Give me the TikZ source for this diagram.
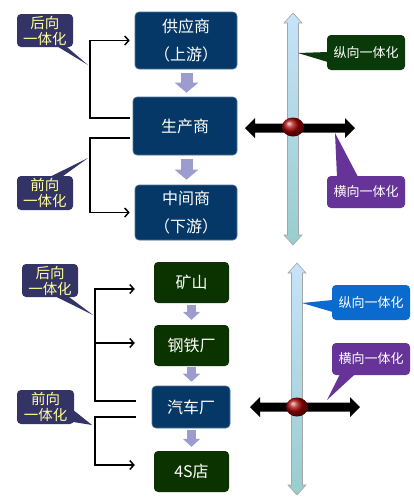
\documentclass[tikz,border=0pt]{standalone}
\usepackage{fontspec}
\setmainfont{Noto Sans CJK SC}
\usetikzlibrary{arrows.meta,calc}
\definecolor{navy}{HTML}{063867}
\definecolor{dgreen}{HTML}{0B3300}
\definecolor{cnavy}{HTML}{333366}
\definecolor{cpurple}{HTML}{663399}
\definecolor{cblue}{HTML}{0A6ACD}
\definecolor{cgreen}{HTML}{0A3A0A}
\definecolor{cyel}{HTML}{FFFF99}
\definecolor{lav}{HTML}{9C9CCF}
\definecolor{vtop}{HTML}{C6E3FA}
\definecolor{vbot}{HTML}{98CDCD}
\newcommand\vdbar[2]{\path[draw=gray!70, line width=0.6pt, top color=vtop, bottom color=vbot]
 (#1,#2) -- (#1+9,#2+10) -- (#1+5.5,#2+10) -- (#1+5.5,#2+222) -- (#1+9,#2+222) -- (#1,#2+232)
 -- (#1-9,#2+222) -- (#1-5.5,#2+222) -- (#1-5.5,#2+10) -- (#1-9,#2+10) -- cycle;}
\newcommand\hdbar[2]{\fill[black]
 (#1-55,#2) -- (#1-45,#2-10) -- (#1-45,#2-4.5) -- (#1+45,#2-4.5) -- (#1+45,#2-10) -- (#1+55,#2)
 -- (#1+45,#2+10) -- (#1+45,#2+4.5) -- (#1-45,#2+4.5) -- (#1-45,#2+10) -- cycle;}
\begin{document}
\begin{tikzpicture}[x=1pt,y=-1pt,
 stagebox/.style={rounded corners=4pt, text=white, align=center, inner sep=0pt, font=\fontsize{16}{28}\selectfont},
 navybox/.style={stagebox, fill=navy, draw=navy!70!white, line width=0.6pt},
 greenbox/.style={stagebox, fill=dgreen},
 callbox/.style={rounded corners=4pt, align=center, inner sep=0pt, font=\fontsize{13}{17}\selectfont},
 lcall/.style={callbox, fill=cnavy, text=cyel, font=\fontsize{14.5}{16}\selectfont},
 bline/.style={line width=1.5pt, draw=black},
 btip/.style={-{Straight Barb[length=4pt,width=9pt]}},
 flow/.style={line width=12pt, draw=lav, -{Triangle[length=10pt,width=23pt]}},
 flowsm/.style={line width=9pt, draw=lav, -{Triangle[length=8pt,width=17pt]}},
 redball/.style={ball color=red!65!black},
]
\useasboundingbox (0,0) rectangle (414,499);
\fill[white] (0,0) rectangle (414,499);

% ---------- top diagram ----------
\node[navybox, minimum width=102pt, minimum height=57pt] (sup) at (186,40.5) {供应商\\（上游）};
\node[navybox, minimum width=104pt, minimum height=58pt] (prod) at (185,126) {生产商};
\node[navybox, minimum width=102pt, minimum height=55pt] (mid) at (186,212.5) {中间商\\（下游）};
\draw[flow] ([yshift=-4pt,xshift=0.5pt]sup.south) -- ([yshift=4pt,xshift=1.5pt]prod.north);
\draw[flow] ([yshift=-4pt,xshift=1.5pt]prod.south) -- ([yshift=5pt,xshift=0.5pt]mid.north);

\coordinate (t1) at (90,118);
\coordinate (t2) at (90,138);
\draw[bline,btip] ([xshift=-3pt]prod.west |- t1) -- (t1) |- ([xshift=-5pt]sup.west);
\draw[bline,btip] ([xshift=-3pt]prod.west |- t2) -- (t2) |- ([xshift=-5pt]mid.west);

\node[lcall, minimum width=56pt, minimum height=33pt] (cb1) at (45,30.5) {后向\\一体化};
\coordinate (tb1) at (88,65);
\fill[cnavy] ([xshift=12pt,yshift=1pt]cb1.south) -- (tb1) -- ([xshift=21pt,yshift=1pt]cb1.south) -- cycle;
\node[lcall, minimum width=56pt, minimum height=34pt] (cf1) at (45,193) {前向\\一体化};
\coordinate (tf1) at (88,158);
\fill[cnavy] ([xshift=5pt,yshift=-1pt]cf1.north) -- (tf1) -- ([xshift=17pt,yshift=-1pt]cf1.north) -- cycle;

\vdbar{293}{13}
\hdbar{300}{128}
\shade[redball] (293,127) ellipse [x radius=11pt, y radius=9.5pt];

\node[callbox, fill=cgreen, text=white, minimum width=78pt, minimum height=35pt] (cv1) at (366,52.5) {纵向一体化};
\coordinate (tv1) at (298,53);
\fill[cgreen] ([xshift=1pt,yshift=0.5pt]cv1.west) -- (tv1) -- ([xshift=1pt,yshift=-9.5pt]cv1.west) -- cycle;
\node[callbox, fill=cpurple, text=white, minimum width=78pt, minimum height=32pt] (ch1) at (366,192) {横向一体化};
\coordinate (th1) at (335,133);
\fill[cpurple] ([xshift=-29pt,yshift=-1pt]ch1.north) -- (th1) -- ([xshift=-8pt,yshift=-1pt]ch1.north) -- cycle;

% ---------- bottom diagram ----------
\node[greenbox, minimum width=75pt, minimum height=41pt] (mine) at (191.5,282.5) {矿山};
\node[greenbox, minimum width=75pt, minimum height=41pt] (steel) at (191.5,345.5) {钢铁厂};
\node[navybox, minimum width=78pt, minimum height=42pt] (auto) at (191,407) {汽车厂};
\node[greenbox, minimum width=75pt, minimum height=41pt] (shop) at (191.5,471.5) {4S店};
\draw[flowsm] ([yshift=-2pt]mine.south) -- ([yshift=5pt]steel.north);
\draw[flowsm] ([yshift=-1pt]steel.south) -- ([yshift=4pt,xshift=0.5pt]auto.north);
\draw[flowsm] ([yshift=-2pt,xshift=0.5pt]auto.south) -- ([yshift=4pt]shop.north);

\coordinate (b1) at (95,401);
\coordinate (b2) at (95,289);
\coordinate (b3) at (95,343);
\coordinate (b4) at (95,417);
\coordinate (b5) at (95,465);
\draw[bline,btip] ([xshift=-16pt]auto.west |- b1) -- (b1) -- (b2) -- ([xshift=-19pt]mine.west |- b2);
\draw[bline,btip] (b3) -- ([xshift=-19pt]steel.west |- b3);
\draw[bline,btip] ([xshift=-16pt]auto.west |- b4) -- (b4) -- (b5) -- ([xshift=-19pt]shop.west |- b5);

\node[lcall, minimum width=56pt, minimum height=33pt] (cb2) at (50,280.5) {后向\\一体化};
\coordinate (tb2) at (93,315);
\fill[cnavy] ([xshift=5pt,yshift=1pt]cb2.south) -- (tb2) -- ([xshift=18pt,yshift=1pt]cb2.south) -- cycle;
\node[lcall, minimum width=57pt, minimum height=34pt] (cf2) at (45.5,407) {前向\\一体化};
\coordinate (tf2) at (92,425);
\fill[cnavy] ([xshift=-1pt,yshift=-3pt]cf2.east) -- (tf2) -- ([xshift=-1pt,yshift=-15pt]cf2.east) -- cycle;

\vdbar{297}{263}
\hdbar{305}{407}
\shade[redball] (297,407) ellipse [x radius=11pt, y radius=9.5pt];

\node[callbox, fill=cblue, text=white, minimum width=78pt, minimum height=35pt] (cv2) at (371,302.5) {纵向一体化};
\coordinate (tv2) at (302,303);
\fill[cblue] ([xshift=1pt,yshift=2.5pt]cv2.west) -- (tv2) -- ([xshift=1pt,yshift=-9.5pt]cv2.west) -- cycle;
\node[callbox, fill=cpurple, text=white, minimum width=78pt, minimum height=32pt] (ch2) at (371,359) {横向一体化};
\coordinate (th2) at (327,400);
\fill[cpurple] ([xshift=-31pt,yshift=1pt]ch2.south) -- (th2) -- ([xshift=-16pt,yshift=1pt]ch2.south) -- cycle;
\end{tikzpicture}
\end{document}
